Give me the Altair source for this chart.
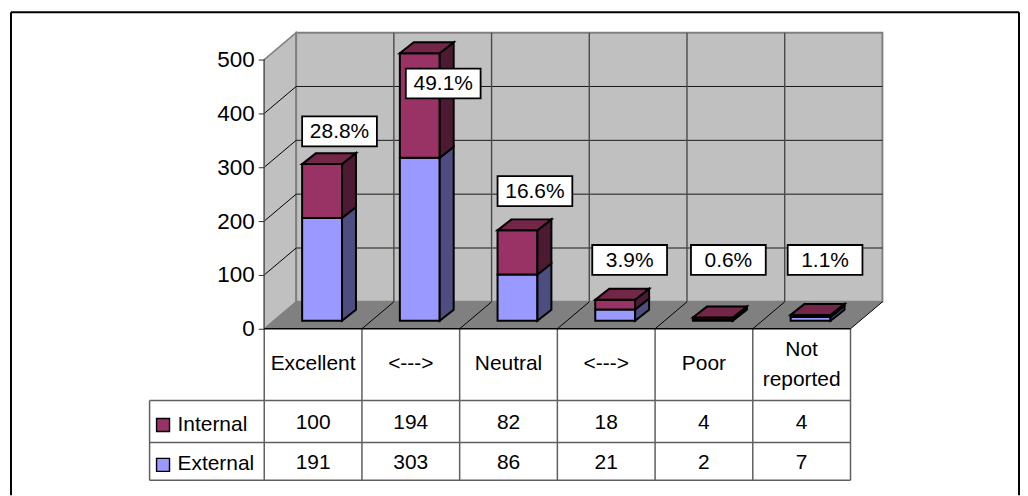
import altair as alt
import pandas as pd

# ---------- chart values ----------
categories = ["Excellent", "<--->", "Neutral", "<--->", "Poor", "Not reported"]
internal = [100, 194, 82, 18, 4, 4]
external = [191, 303, 86, 21, 2, 7]
shares = ["28.8%", "49.1%", "16.6%", "3.9%", "0.6%", "1.1%"]
value_ticks = [0, 100, 200, 300, 400, 500]

# ---------- layout (pixels on the page) ----------
LEFT, TOP, RIGHT, BOTTOM = 10, 11, 1022, 495
SHIFT = 1                     # svg origin correction
X0, CELL = 264, 98            # front floor left edge, category width
Y0, RATE = 328, 0.54          # value 0 on the front edge, px per value unit
WALL_DX, WALL_DY = 32, 27     # depth of the floor
BAR_LEFT, BAR_W = 38, 40      # bar front left edge within its category
BAR_LIFT = 8                  # bar base above the front floor edge
BAR_DX, BAR_DY = 14, 11       # bar depth
TABLE_ROWS = [400, 442, 480]
TABLE_LEFT = 149
FONT = "Liberation Sans"
FS = 21
AXIS_FS = 22.5
BOX_LEFT = [302, 406, 498, 593, 692, 789]
BOX_TOP = [115, 67, 175, 244, 244, 244]
BOX_W, BOX_H = 75, 30


def X(px):
    return (px - X0) / CELL


def Y(py):
    return (Y0 - py) / RATE


x_scale = alt.Scale(domain=[X(LEFT), X(RIGHT)], nice=False, zero=False)
y_scale = alt.Scale(domain=[Y(BOTTOM), Y(TOP)], nice=False, zero=False)
ddx, ddy = WALL_DX / CELL, WALL_DY / RATE
bdx, bdy = BAR_DX / CELL, BAR_DY / RATE
lift = BAR_LIFT / RATE
n = len(categories)
y_axis = alt.Axis(values=value_ticks, offset=-(X0 - LEFT), domain=False, grid=False, tickSize=6,
                  tickColor="#303030", tickWidth=1, labelFont=FONT, labelFontSize=AXIS_FS,
                  labelColor="#000000", labelPadding=4, title=None, zindex=1)
ex = alt.X("x:Q", scale=x_scale, axis=None)
ey = alt.Y("y:Q", scale=y_scale, axis=y_axis, stack=None)


def rules(rows, color, width):
    df = pd.DataFrame(rows, columns=["x", "x2", "y", "y2"])
    return alt.Chart(df).mark_rule(color=color, strokeWidth=width).encode(
        x=ex, x2="x2:Q", y=ey, y2="y2:Q")


def rects(rows, fill, stroke, width):
    df = pd.DataFrame(rows, columns=["x", "x2", "y", "y2"])
    return alt.Chart(df).mark_rect(fill=fill, stroke=stroke, strokeWidth=width, opacity=1).encode(
        x=ex, x2="x2:Q", y=ey, y2="y2:Q")


def vfaces(rows, fill, stroke, width):
    # rows: id, x, y(bottom), y2(top)
    df = pd.DataFrame(rows, columns=["id", "x", "y", "y2"])
    return alt.Chart(df).mark_area(orient="vertical", fill=fill, stroke=stroke, strokeWidth=width,
                                   opacity=1, strokeJoin="miter").encode(
        x=ex, y=ey, y2="y2:Q", detail="id:N")


def hfaces(rows, fill, stroke, width):
    # rows: id, y, x, x2
    df = pd.DataFrame(rows, columns=["id", "y", "x", "x2"])
    return alt.Chart(df).mark_area(orient="horizontal", fill=fill, stroke=stroke, strokeWidth=width,
                                   opacity=1, strokeJoin="miter").encode(
        y=ey, x=ex, x2="x2:Q", detail="id:N")


def texts(rows, align="center"):
    df = pd.DataFrame(rows, columns=["x", "y", "t"])
    return alt.Chart(df).mark_text(align=align, baseline="alphabetic", font=FONT, fontSize=FS,
                                   color="#000000").encode(x=ex, y=ey, text="t:N")


# ---------- walls and floor ----------
vmax = value_ticks[-1]
floor = hfaces([(0, 0, 0, n), (0, ddy, ddx, n + ddx)], "#808080", "#808080", 0)
left_wall = vfaces([(0, 0, 0, vmax), (0, ddx, ddy, vmax + ddy)], "#c0c0c0", "#808080", 1.5)
back_wall = rects([(ddx, n + ddx, ddy, vmax + ddy)], "#c0c0c0", "#808080", 2)
h_grid = rules([(ddx, n + ddx, v + ddy, v + ddy) for v in value_ticks[1:-1]], "#1a1a1a", 1)
side_grid = rules([(0, ddx, v, v + ddy) for v in value_ticks[1:-1]], "#000000", 1)
floor_grid = rules([(i, i + ddx, 0, ddy) for i in range(1, n)], "#000000", 1)
v_back = rules([(i + ddx, i + ddx, ddy, vmax + ddy) for i in range(1, n)], "#4a4a4a", 1.4)
front_axis = rules([(0, 0, 0, vmax)], "#606060", 1.5)

# ---------- bars ----------
bx0 = [i + BAR_LEFT / CELL for i in range(n)]
bw = BAR_W / CELL


def front(lows, highs):
    return [(bx0[i], bx0[i] + bw, lift + lows[i], lift + highs[i]) for i in range(n)]


def side(lows, highs):
    rows = []
    for i in range(n):
        x1 = bx0[i] + bw
        rows.append((i, x1, lift + lows[i], lift + highs[i]))
        rows.append((i, x1 + bdx, lift + lows[i] + bdy, lift + highs[i] + bdy))
    return rows


def top(levels):
    rows = []
    for i in range(n):
        rows.append((i, lift + levels[i], bx0[i], bx0[i] + bw))
        rows.append((i, lift + levels[i] + bdy, bx0[i] + bdx, bx0[i] + bw + bdx))
    return rows


zeros = [0] * n
totals = [a + b for a, b in zip(external, internal)]
SW = 2
bars = [
    rects(front(zeros, external), "#9999ff", "#000000", SW),
    vfaces(side(zeros, external), "#4d4d80", "#000000", SW),
    rects(front(external, totals), "#993366", "#000000", SW),
    vfaces(side(external, totals), "#4d1a33", "#000000", SW),
    hfaces(top(totals), "#732648", "#000000", SW),
]

# ---------- share labels ----------
boxes = rects([(X(l), X(l + BOX_W), Y(t), Y(t + BOX_H)) for l, t in zip(BOX_LEFT, BOX_TOP)],
              "#ffffff", "#000000", 1.8)
box_text = texts([(X(l + BOX_W / 2), Y(t + 22), s) for l, t, s in zip(BOX_LEFT, BOX_TOP, shares)])

# ---------- data table ----------
tcol = "#606060"
table_v = rules([(i, i, Y(Y0), Y(TABLE_ROWS[-1])) for i in range(n + 1)], tcol, 1.5)
table_left = rules([(X(TABLE_LEFT), X(TABLE_LEFT), Y(TABLE_ROWS[0]), Y(TABLE_ROWS[-1]))], tcol, 1.5)
table_h = rules([(X(TABLE_LEFT), n, Y(r), Y(r)) for r in TABLE_ROWS], tcol, 1.5)
floor_edge = rules([(0, n, 0, 0)], "#000000", 1.5)
right_edge = rules([(n, n + ddx, 0, ddy)], "#000000", 1)

cat_rows = []
for i, c in enumerate(categories):
    if " " in c and c.startswith("Not"):
        a, b = c.split(" ")
        cat_rows += [(i + 0.5, Y(355), a), (i + 0.5, Y(385), b)]
    else:
        cat_rows.append((i + 0.5, Y(369), c))
cat_text = texts(cat_rows)
num_text = texts([(i + 0.5, Y(429), str(v)) for i, v in enumerate(internal)]
                 + [(i + 0.5, Y(469), str(v)) for i, v in enumerate(external)])
legend_text = texts([(X(177), Y(431), "Internal"), (X(177), Y(470), "External")], align="left")
sw_int = rects([(X(156), X(169), Y(418), Y(431))], "#993366", "#000000", 1.4)
sw_ext = rects([(X(156), X(169), Y(458), Y(471))], "#9999ff", "#000000", 1.4)

# ---------- outer frame (open at the bottom) ----------
fl, fr, ft = X(LEFT), X(RIGHT - 1), Y(TOP - 0.5)
frame = rules([(fl, fr, ft, ft),
               (fl, fl, ft, Y(BOTTOM)),
               (fr, fr, ft, Y(BOTTOM))], "#000000", 2)

chart = alt.layer(
    left_wall, back_wall, floor, h_grid, side_grid, v_back, floor_grid,
    front_axis, *bars, boxes, box_text,
    table_v, table_left, table_h, floor_edge, right_edge,
    cat_text, num_text, legend_text, sw_int, sw_ext, frame,
).properties(
    width=RIGHT - LEFT, height=BOTTOM - TOP,
    padding={"left": LEFT - 8 + SHIFT, "top": TOP - 8 + SHIFT, "right": 0, "bottom": 0},
    autosize=alt.AutoSizeParams(type="none"),
    background="#ffffff",
).configure_view(stroke=None)

chart.save("out.html", embed_options={"renderer": "svg", "actions": False})
